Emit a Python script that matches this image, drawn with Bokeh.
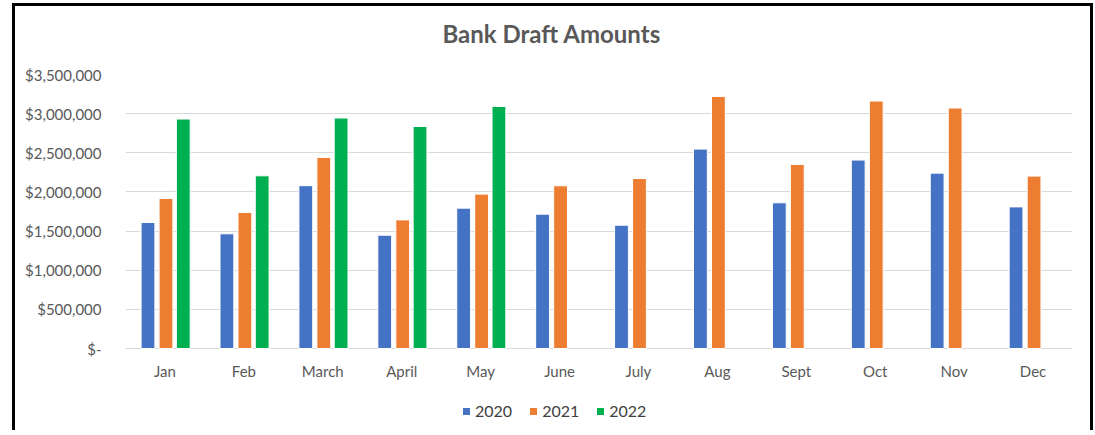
from bokeh.plotting import figure
from bokeh.models import (ColumnDataSource, FactorRange, Range1d, FixedTicker,
                          Legend, Title)
from bokeh.core.properties import value
from bokeh.transform import dodge
from bokeh.embed import file_html
from bokeh.resources import INLINE

months = ["Jan", "Feb", "March", "April", "May", "June", "July", "Aug",
          "Sept", "Oct", "Nov", "Dec"]
v2020 = [1610000, 1465000, 2080000, 1447000, 1793000, 1716000, 1575000,
         2547000, 1861000, 2407000, 2240000, 1809000]
v2021 = [1916000, 1737000, 2440000, 1643000, 1972000, 2078000, 2171000,
         3220000, 2351000, 3161000, 3072000, 2202000]
months_2022 = ["Jan", "Feb", "March", "April", "May"]
v2022 = [2931000, 2206000, 2944000, 2836000, 3092000]

y_ticks = [0, 500000, 1000000, 1500000, 2000000, 2500000, 3000000, 3500000]
y_labels = ["$-", "$500,000", "$1,000,000", "$1,500,000", "$2,000,000",
            "$2,500,000", "$3,000,000", "$3,500,000"]

FONT = "Lato"
GRAY = "#595959"

# plot area: 274 px for 0..3.5M, extended below so the legend fits in the frame
PLOT_H = 274
FRAME_H = 356
Y_MAX = 3500000
per_px = Y_MAX / PLOT_H
y_min = -(FRAME_H - PLOT_H) * per_px

src = ColumnDataSource(dict(month=months, y2020=v2020, y2021=v2021,
                            label_y=[-22 * per_px] * len(months)))
src22 = ColumnDataSource(dict(month=months_2022, y2022=v2022))

p = figure(x_range=FactorRange(factors=months), y_range=Range1d(y_min, Y_MAX),
           frame_width=947, frame_height=FRAME_H,
           min_border_left=110, min_border_right=18, min_border_top=68,
           min_border_bottom=0,
           output_backend="svg", toolbar_location=None,
           title="Bank Draft Amounts")
p.styles = {"border-top": "3px solid black", "border-left": "3px solid black",
            "border-right": "3px solid black",
            "margin-left": "12px", "margin-top": "3px"}

p.title.align = "left"
p.title.offset = 317
p.title.text_font = FONT
p.title.text_font_size = "24px"
p.title.text_font_style = "bold"
p.title.text_color = GRAY
p.title.standoff = 20

# empty spacer between title and plot area
p.add_layout(Title(text=" ", text_font_size="1px", standoff=14), "above")

w = 0.175
r1 = p.vbar(x=dodge("month", -0.215, range=p.x_range), top="y2020", width=w,
            source=src, fill_color="#4472C4", line_color="white", line_width=1)
r2 = p.vbar(x=dodge("month", 0.013, range=p.x_range), top="y2021", width=w,
            source=src, fill_color="#ED7D31", line_color="white", line_width=1)
r3 = p.vbar(x=dodge("month", 0.232, range=p.x_range), top="y2022", width=w,
            source=src22, fill_color="#00B050", line_color="white", line_width=1)

# category labels under the zero line
p.text(x="month", y="label_y", text="month", source=src,
       text_font=value(FONT), text_font_size="15px", text_color=GRAY,
       text_align="center", text_baseline="middle")

p.xaxis.visible = False
p.yaxis.ticker = FixedTicker(ticks=y_ticks)
p.yaxis.major_label_overrides = {t: l for t, l in zip(y_ticks, y_labels)}
ax = p.yaxis[0]
ax.axis_line_color = None
ax.major_tick_line_color = None
ax.minor_tick_line_color = None
ax.major_label_text_font = FONT
ax.major_label_text_font_size = "15px"
ax.major_label_text_color = GRAY
ax.major_label_standoff = 18

p.xgrid.grid_line_color = None
p.ygrid.grid_line_color = "#D9D9D9"
p.ygrid.grid_line_width = 1
p.outline_line_color = None

legend = Legend(items=[("2020", [r1]), ("2021", [r2]), ("2022", [r3])],
                orientation="horizontal", location=(336, 10))
legend.label_text_font = FONT
legend.label_text_font_size = "16px"
legend.label_text_color = "#404040"
legend.glyph_width = 10
legend.glyph_height = 10
legend.label_standoff = 4
legend.spacing = 16
legend.border_line_color = None
legend.background_fill_alpha = 0
legend.padding = 2
legend.margin = 0
p.add_layout(legend, "center")

open("out.html", "w").write(file_html(p, INLINE))
